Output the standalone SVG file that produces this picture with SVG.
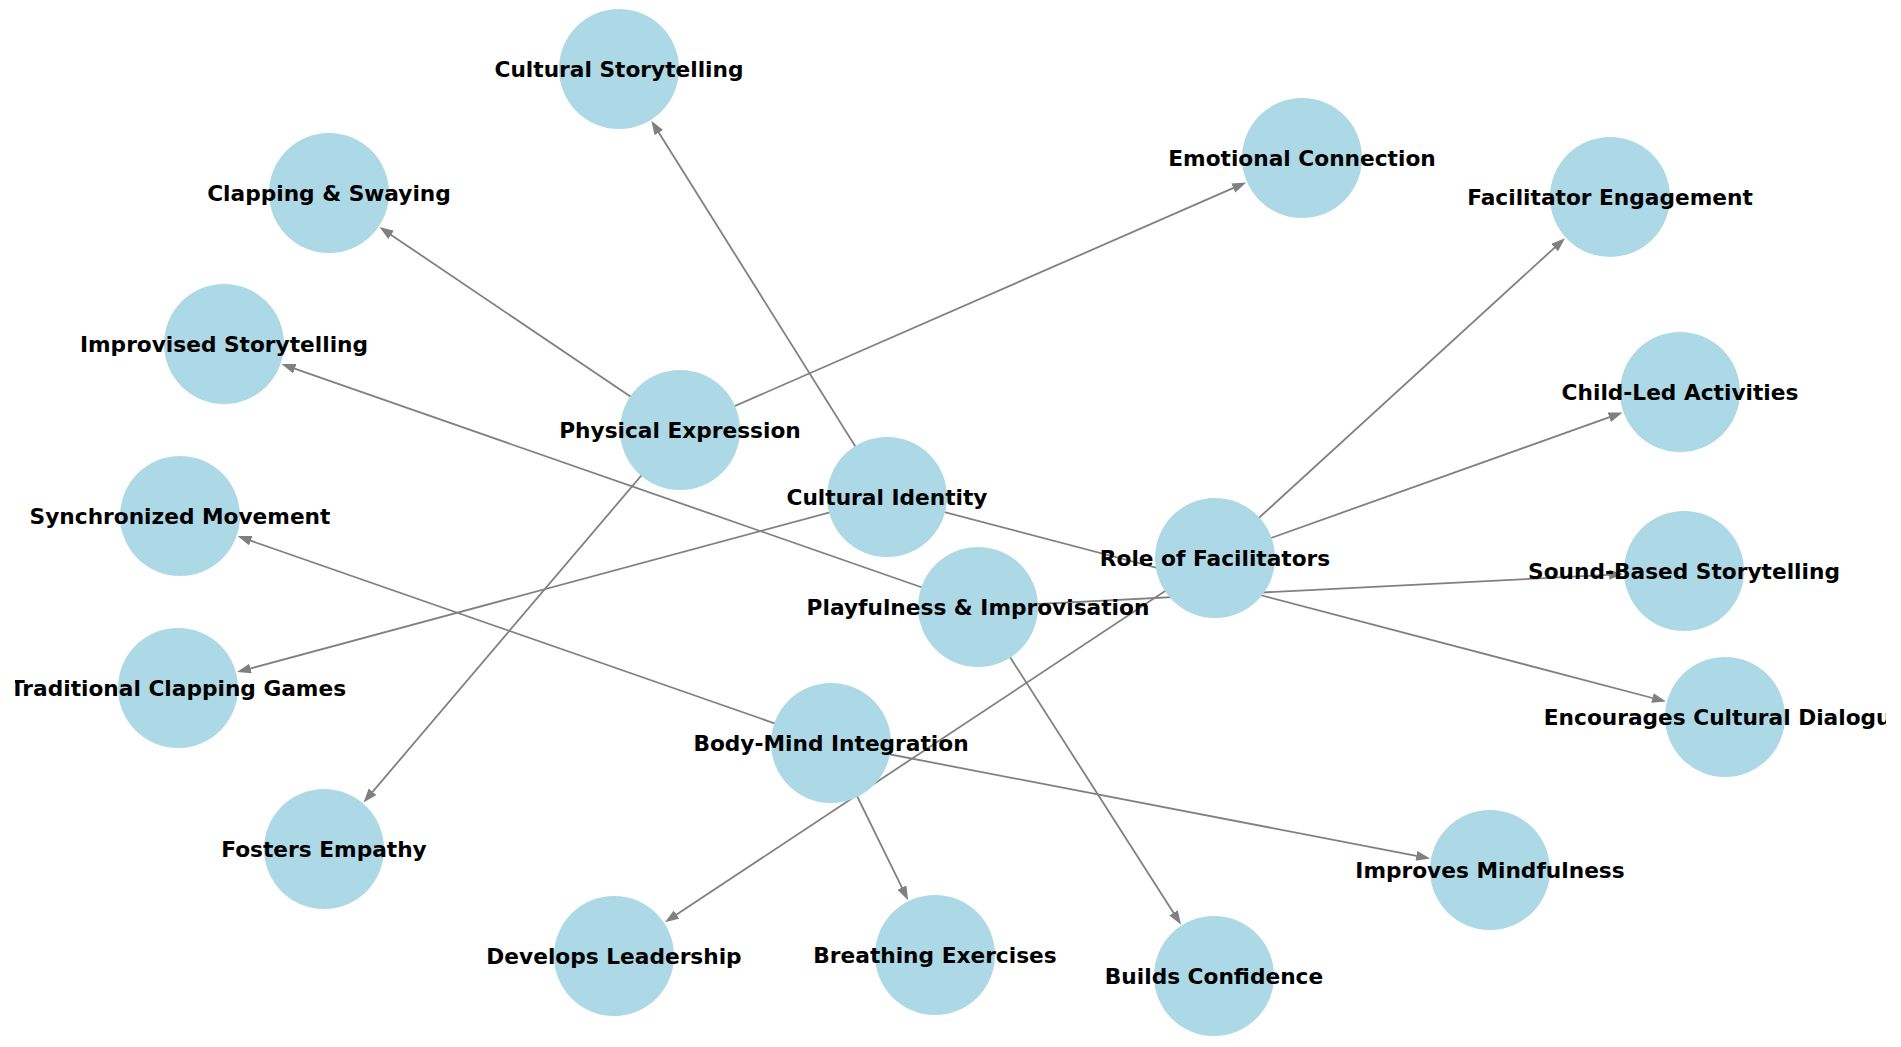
<svg xmlns="http://www.w3.org/2000/svg" width="1901" height="1047" viewBox="0 0 1901 1047">
<style>
.edge{stroke:#808080;stroke-width:1.8;fill:none;marker-end:url(#arr)}
.node circle{fill:#add8e6}
.node text{font-family:"DejaVu Sans",sans-serif;font-weight:bold;font-size:21.7px;fill:#000;text-anchor:middle}
</style>
<defs>
<marker id="arr" markerUnits="userSpaceOnUse" markerWidth="16" markerHeight="12" refX="4" refY="5" orient="auto">
<path d="M0,0 L14,5 L0,10 z" fill="#808080"/>
</marker>
<clipPath id="ax"><rect x="15" y="0" width="1871" height="1047"/></clipPath>
</defs>
<rect width="1901" height="1047" fill="#fff"/>
<g clip-path="url(#ax)">
<g id="edges">
<line class="edge" x1="887" y1="497" x2="656.7" y2="129.2"/>
<line class="edge" x1="680" y1="430" x2="387.8" y2="232.7"/>
<line class="edge" x1="680" y1="430" x2="1237.0" y2="186.4"/>
<line class="edge" x1="978" y1="607" x2="291.0" y2="367.4"/>
<line class="edge" x1="680" y1="430" x2="370.0" y2="794.9"/>
<line class="edge" x1="887" y1="497" x2="246.6" y2="669.5"/>
<line class="edge" x1="831" y1="743" x2="247.0" y2="539.4"/>
<line class="edge" x1="887" y1="497" x2="1656.3" y2="699.0"/>
<line class="edge" x1="1215" y1="558" x2="1557.6" y2="244.9"/>
<line class="edge" x1="1215" y1="558" x2="1613.1" y2="415.9"/>
<line class="edge" x1="978" y1="607" x2="1613.1" y2="574.6"/>
<line class="edge" x1="1215" y1="558" x2="673.2" y2="916.8"/>
<line class="edge" x1="831" y1="743" x2="1420.3" y2="856.6"/>
<line class="edge" x1="831" y1="743" x2="903.7" y2="891.2"/>
<line class="edge" x1="978" y1="607" x2="1175.7" y2="916.2"/>
</g>
<g id="n-cultural-storytelling" class="node"><circle cx="619" cy="69" r="60"/><text x="619" y="77">Cultural Storytelling</text></g>
<g id="n-clapping-swaying" class="node"><circle cx="329" cy="193" r="60"/><text x="329" y="201">Clapping &amp; Swaying</text></g>
<g id="n-improvised-storytelling" class="node"><circle cx="224" cy="344" r="60"/><text x="224" y="352">Improvised Storytelling</text></g>
<g id="n-physical-expression" class="node"><circle cx="680" cy="430" r="60"/><text x="680" y="438">Physical Expression</text></g>
<g id="n-synchronized-movement" class="node"><circle cx="180" cy="516" r="60"/><text x="180" y="524">Synchronized Movement</text></g>
<g id="n-traditional-clapping-games" class="node"><circle cx="178" cy="688" r="60"/><text x="178" y="696">Traditional Clapping Games</text></g>
<g id="n-fosters-empathy" class="node"><circle cx="324" cy="849" r="60"/><text x="324" y="857">Fosters Empathy</text></g>
<g id="n-body-mind-integration" class="node"><circle cx="831" cy="743" r="60"/><text x="831" y="751">Body-Mind Integration</text></g>
<g id="n-develops-leadership" class="node"><circle cx="614" cy="956" r="60"/><text x="614" y="964">Develops Leadership</text></g>
<g id="n-breathing-exercises" class="node"><circle cx="935" cy="955" r="60"/><text x="935" y="963">Breathing Exercises</text></g>
<g id="n-playfulness-improvisation" class="node"><circle cx="978" cy="607" r="60"/><text x="978" y="615">Playfulness &amp; Improvisation</text></g>
<g id="n-cultural-identity" class="node"><circle cx="887" cy="497" r="60"/><text x="887" y="505">Cultural Identity</text></g>
<g id="n-emotional-connection" class="node"><circle cx="1302" cy="158" r="60"/><text x="1302" y="166">Emotional Connection</text></g>
<g id="n-facilitator-engagement" class="node"><circle cx="1610" cy="197" r="60"/><text x="1610" y="205">Facilitator Engagement</text></g>
<g id="n-child-led-activities" class="node"><circle cx="1680" cy="392" r="60"/><text x="1680" y="400">Child-Led Activities</text></g>
<g id="n-role-of-facilitators" class="node"><circle cx="1215" cy="558" r="60"/><text x="1215" y="566">Role of Facilitators</text></g>
<g id="n-sound-based-storytelling" class="node"><circle cx="1684" cy="571" r="60"/><text x="1684" y="579">Sound-Based Storytelling</text></g>
<g id="n-encourages-cultural-dialogue" class="node"><circle cx="1725" cy="717" r="60"/><text x="1725" y="725">Encourages Cultural Dialogue</text></g>
<g id="n-improves-mindfulness" class="node"><circle cx="1490" cy="870" r="60"/><text x="1490" y="878">Improves Mindfulness</text></g>
<g id="n-builds-confidence" class="node"><circle cx="1214" cy="976" r="60"/><text x="1214" y="984">Builds Confidence</text></g>
</g>
</svg>
